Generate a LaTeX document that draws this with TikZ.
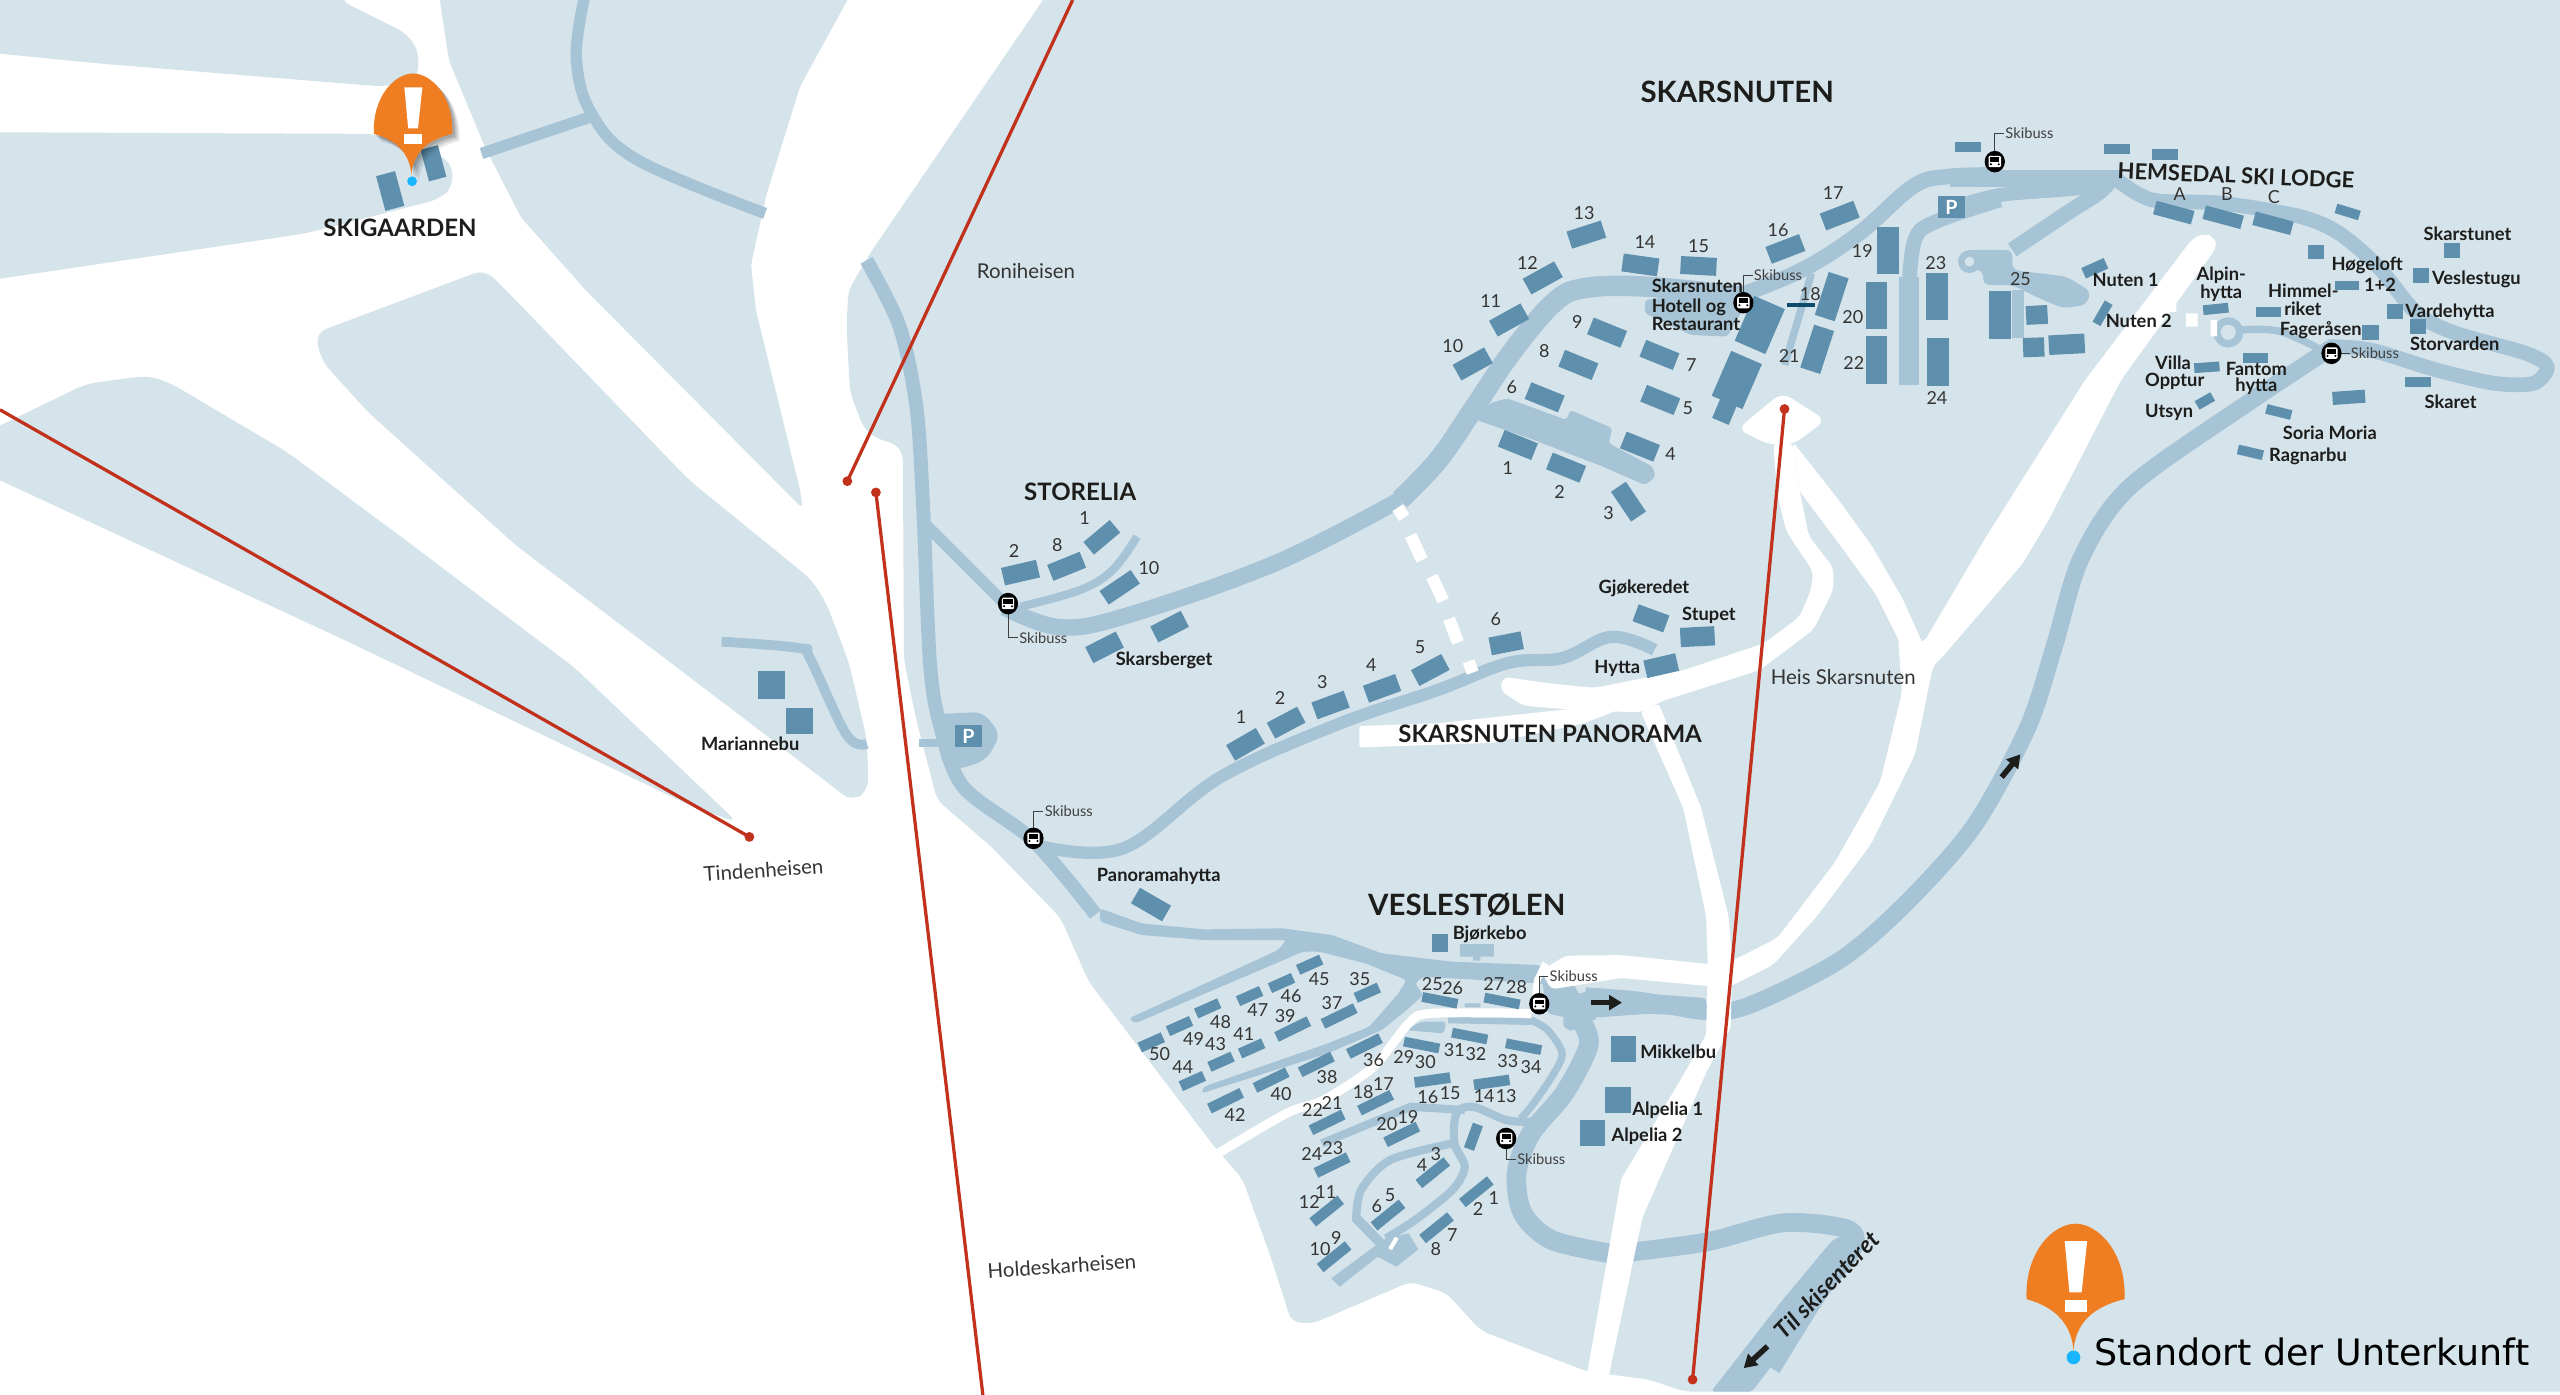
\documentclass[tikz,border=0pt]{standalone}
\usepackage{fontspec}
\setmainfont{Lato}
\newfontfamily\plainfont{DejaVu Sans}
\usetikzlibrary{arrows.meta}
\definecolor{landc}{HTML}{D5E3EB}
\definecolor{roadc}{HTML}{A7C4D6}
\definecolor{housec}{HTML}{5E90AD}
\definecolor{liftc}{HTML}{C1311C}
\definecolor{pinc}{HTML}{EF7D21}
\definecolor{dotc}{HTML}{19B5FE}
\definecolor{inkc}{HTML}{1D1D1B}
\definecolor{barc}{HTML}{0F4C6B}
\newcommand{\pinpath}{(0,0) .. controls (1,-12) and (8,-21) .. (25,-25) .. controls (26,-48) and (12,-62) .. (1,-62) .. controls (-10,-62) and (-24,-48) .. (-23,-25) .. controls (-8,-21) and (-1,-12) .. (0,0) -- cycle}
\tikzset{
  land/.style={fill=landc,rounded corners=7pt},
  road/.style={draw=roadc,line join=round},
  roadfill/.style={fill=roadc,rounded corners=2pt},
  piste/.style={fill=white,rounded corners=4pt},
  pistel/.style={draw=white,line join=round},
  house/.style={fill=housec,rectangle,inner sep=0pt,outer sep=0pt},
  num/.style={font=\fontsize{11}{12}\selectfont,text=inkc!90,inner sep=0pt},
  lab/.style={font=\bfseries\fontsize{11.2}{12}\selectfont,text=inkc,inner sep=0pt},
  area/.style={font=\bfseries\fontsize{14.7}{16}\selectfont,text=inkc,inner sep=0pt},
  lift/.style={draw=liftc,line width=2pt},
  liftdot/.style={circle,fill=liftc,minimum size=6pt,inner sep=0pt},
  heis/.style={font=\fontsize{12.5}{14}\selectfont,text=inkc!90,inner sep=0pt},
  skibuss/.style={font=\fontsize{9}{10}\selectfont,text=inkc!85,inner sep=0pt},
  leader/.style={draw=inkc!85,line width=.4pt},
  blockarrow/.style={draw=inkc,line width=3.4pt,-{Triangle[length=8pt,width=9pt]}},
  parking/.style={fill=housec,text=white,font=\bfseries\fontsize{12}{12}\selectfont,inner sep=0pt},
  viewa/.style={shift={(857.5,61.2)},x=.2344pt,y=-.2042pt},
  viewb/.style={shift={(1194.4,61.2)},x=.2383pt,y=-.2042pt},
  viewc/.style={shift={(673.7,539)},x=.2539pt,y=-.2042pt},
  viewd/.style={shift={(581.9,275.6)},x=.332pt,y=-.2042pt},
  viewe/.style={shift={(949.3,232.7)},x=.2734pt,y=-.2734pt},
  pics/busstop/.style={code={
    \fill[black] (0,0) ellipse (6.2pt and 6.6pt);
    \fill[white,rounded corners=.8pt] (-3.8,-3.6) rectangle (3.8,3.4);
    \fill[black] (-2.8,-2.6) rectangle (2.8,.2);
    \fill[black] (-2.4,1.6) circle (.7pt) (2.4,1.6) circle (.7pt);
  }},
  pics/warnpin/.style={code={
    \fill[pinc] \pinpath;
    \fill[white] (-4.3,-53.5) -- (6.7,-53.5) -- (4,-28.4) -- (-2,-28.4) -- cycle;
    \fill[white] (-4.3,-24.8) rectangle (6.7,-18.8);
  }}
}
\begin{document}
\begin{tikzpicture}[x=1pt,y=-1pt]
  \useasboundingbox (0,0) rectangle (1568,854.4);
  \fill[white] (0,0) rectangle (1568,854.4);

  % land
  \fill[land] (-9,-9) -- (208,-9) -- (208,0) -- (250,21) -- (257,33) -- (255,50) -- (234,53) -- (62,39) -- (-9,32) -- cycle;
  \fill[land] (-9,81) -- (230,82) -- (276,98) -- (278,114) -- (269,122) -- (187,143) -- (-9,172) -- cycle;
  \fill[land] (297,165) -- (193,204) -- (197,221) -- (225,252) -- (316,334) -- (457,441) -- (522,491) -- (532,484) -- (531,453) -- (520,406) -- (506,369) -- (497,355) -- (422,294) -- (316,184) -- cycle;
  \fill[land] (-9,265) -- (53,235) -- (91,230) -- (105,235) -- (176,277) -- (246,329) -- (352,409) -- (452,504) -- (422,493) -- (211,392) -- (-9,290) -- cycle;
  \fill[land,rounded corners=3pt] (268,-9) -- (275,37) -- (297,90) -- (319,133) -- (359,178) -- (491.6,311.5) -- (490,300) -- (477.7,250) -- (463,190) -- (460,162) -- (469.5,119) -- (490,53) -- (524,-9) -- cycle;
  \fill[land,rounded corners=5pt] (645,-9) -- (533,155) -- (519.6,178) -- (518.5,200) -- (520.6,240) -- (528.8,262) -- (537,268.7) -- (549,272) -- (553,278) -- (553.7,404) -- (561,440) -- (574,490) -- (606.5,518) -- (649.5,562) -- (667,601.5) -- (744,702.6) -- (761,722) -- (778,769) -- (791,809.6) -- (804,810.7) -- (864,785) -- (886,792) -- (907,815) -- (972,840) -- (1010,845) -- (1032,852.4) -- (1577,852.4) -- (1577,-9) -- cycle;

  % roads, left part
  \draw[road,line width=7pt] plot[smooth,tension=.6] coordinates {(358,-2) (353,35) (362,69) (390.5,98) (468.6,130.7)};
  \draw[road,line width=7pt] (362,71.5) -- (295,94);
  \draw[road,line width=6pt] plot[smooth,tension=.6] coordinates {(442,393) (490,397) (496,403) (518.5,450) (531,455.6)};
  \draw[road,line width=8.5pt] plot[smooth,tension=.5] coordinates {(530.8,159.4) (551,200) (561.4,250) (565.5,312.5) (569.6,406) (575.7,444) (590,482) (633,515) (671,560)};
  \draw[road,line width=7pt] (567.6,322) -- (617.6,372);
  \draw[road,line width=10pt] plot[smooth,tension=.6] coordinates {(615,372) (648,384) (688,377.7) (781,345) (857.5,306)};
  \draw[road,line width=5pt] (563,455) -- (580,455);
  \fill[roadfill,rounded corners=6pt] (572,437.5) -- (602,436) -- (613,450) -- (604,465.6) -- (588,471) -- (578,471) -- cycle;
  \draw[road,line width=7.5pt] plot[smooth,tension=.6] coordinates {(636,518) (688,519.6) (748,475.7) (821,443) (880.7,422.6) (923.9,406) (957,403) (986.9,390) (1013.5,398)};

  \begin{scope}[viewd]
    \draw[road,line width=5pt] plot[smooth,tension=.6] coordinates {(130,470) (240,420) (300,360) (345,260)};
  \end{scope}

  % roads, Skarsnuten
  \begin{scope}[viewa]
    \draw[road,line width=12.5pt] plot[smooth,tension=.6] coordinates {(0,1200) (100,1080) (190,930) (290,760) (400,610) (480,565) (640,560) (900,590)};
    \draw[road,line width=9.5pt] plot[smooth,tension=.6] coordinates {(880,590) (1050,510) (1200,400) (1340,260) (1430,230) (1568,225)};
    \fill[roadfill] (235,910) -- (280,895) -- (435,960) -- (445,930) -- (555,985) -- (545,1030) -- (660,1100) -- (668,1130) -- (640,1155) -- (530,1100) -- (350,1020) -- (200,960) -- cycle;
    \fill[roadfill] (640,600) -- (640,640) -- (760,705) -- (855,710) -- (900,620) -- (880,570) -- cycle;
    \draw[road,line width=4.5pt] (1075,520) -- (1050,620) -- (1005,795);
    \draw[road,line width=9pt] plot[smooth,tension=.6] coordinates {(1568,300) (1400,365) (1345,420) (1330,570)};
    \fill[roadfill,rounded corners=0pt] (1303,530) rectangle (1356,855);
  \end{scope}

  % roads, lodge
  \begin{scope}[viewb]
    \draw[road,line width=10.5pt] (0,235) -- (440,235);
    \draw[road,line width=8.5pt] plot[smooth,tension=.5] coordinates {(0,325) (130,285) (330,265) (430,240)};
    \draw[road,line width=9.5pt] plot[smooth,tension=.6] coordinates {(410,245) (380,280) (300,340) (160,450)};
    \draw[road,line width=9pt] plot[smooth,tension=.5] coordinates {(430,240) (520,300) (700,310) (900,350) (1000,400) (1100,500) (1200,640) (1300,700) (1480,760) (1535,800) (1500,850) (1400,850) (1250,810) (1080,750) (970,740)};
    \fill[roadfill,rounded corners=4pt] (40,450) -- (85,450) -- (160,450) -- (160,510) -- (300,530) -- (362,575) -- (350,615) -- (290,625) -- (220,590) -- (160,555) -- (85,555) -- (85,510) -- (30,510) -- (20,480) -- cycle;
    \fill[roadfill,rounded corners=0pt] (160,570) rectangle (190,715);
    \fill[roadc] (50,485) circle (7pt);
    \fill[landc] (50,485) circle (3pt);
    \draw[road,line width=4.5pt] (715,697) circle (7pt);
    \draw[road,line width=4.5pt] plot[smooth,tension=.6] coordinates {(750,690) (850,695) (970,760)};
  \end{scope}

  % long road to the lodge
  \draw[road,line width=10.5pt] plot[smooth,tension=.5] coordinates {(1428,213) (1378,246) (1304.7,298) (1274.6,342) (1258,396.7) (1241.8,446) (1209,506) (1168,552.6) (1127,588) (1072,615.5) (1045,619.6) (1004,612.7) (971,610)};
  \begin{scope}[viewe]
    \fill[roadfill] (30,1385) -- (100,1365) -- (220,1375) -- (350,1385) -- (350,1425) -- (220,1420) -- (80,1430) -- (50,1460) -- (30,1450) -- cycle;
  \end{scope}
  \draw[road,line width=11.5pt] plot[smooth,tension=.5] coordinates {(990,768) (1045,760.7) (1092,749) (1130.8,752.6) (1135,764) (1113.6,792) (1085,838)};
  \fill[roadfill] (1122,760) -- (1140,750) -- (1130,778) -- (1073,852.4) -- (1048,852.4) -- (1092,796) -- cycle;

  % roads, Veslestolen
  \begin{scope}[viewc]
    \fill[roadfill] (0,85) -- (100,130) -- (250,148) -- (440,145) -- (560,165) -- (680,220) -- (850,245) -- (1060,255) -- (1100,300) -- (1130,330) -- (1060,310) -- (780,290) -- (760,310) -- (780,345) -- (740,390) -- (680,450) -- (550,520) -- (245,640) -- (250,620) -- (550,490) -- (650,440) -- (720,340) -- (740,300) -- (640,250) -- (530,215) -- (490,215) -- (85,430) -- (70,415) -- (430,210) -- (450,180) -- (250,180) -- (100,165) -- (0,125) -- cycle;
    \fill[roadfill] (1060,260) -- (1130,310) -- (1200,420) -- (1150,420) -- (1080,400) -- cycle;
    \draw[road,line width=12pt] plot[smooth,tension=.5] coordinates {(1110,300) (1165,430) (1178,500) (1120,640) (1040,760) (1005,880) (1020,1000) (1090,1080) (1230,1120)};
    \draw[road,line width=4.5pt] plot[smooth,tension=.5] coordinates {(1040,420) (1080,450) (1115,520) (1090,590) (1040,680) (1015,715)};
    \draw[road,line width=4pt] (840,420) -- (1040,425);
    \fill[roadfill] (735,450) -- (775,425) -- (835,425) -- (830,460) -- cycle;
    \fill[roadc] (868,192) rectangle (950,230) (900,230) rectangle (918,242) (880,370) rectangle (918,382);
    \draw[road,line width=5pt] plot[smooth,tension=.5] coordinates {(1040,725) (980,720) (900,680) (860,700) (855,790) (880,860) (850,930) (760,1020) (690,1075)};
    \draw[road,line width=5pt] plot[smooth,tension=.5] coordinates {(850,790) (700,840) (630,930) (618,1020)};
    \draw[road,line width=5pt] (535,790) -- (750,680) -- (880,690);
    \draw[road,line width=6pt] (615,1010) -- (720,1145);
    \fill[roadfill,rounded corners=0pt] (745,1060) -- (768,1108) -- (715,1160) -- (670,1130) -- (578,1220) -- (558,1195) -- (650,1110) -- (690,1075) -- cycle;
    \fill[white,rotate around={-30:(708,1090)}] (703,1070) rectangle (713,1110);
  \end{scope}

  % pistes
  \fill[piste] (1343,146) -- (1277,233) -- (1217,328) -- (1178,394) -- (1162.6,391) -- (1165,424) -- (1151.6,479) -- (1124,528) -- (1088.7,574.5) -- (1062.8,587.6) -- (1050,590) -- (1050,604) -- (1059,604.5) -- (1086,591) -- (1113,561) -- (1146,517) -- (1173,462) -- (1184,407.7) -- (1190,402) -- (1239,345) -- (1255,318) -- (1299,233) -- (1358,151) -- (1356,145) -- (1350,143) -- cycle;
  \begin{scope}[viewe]
    \fill[piste,rounded corners=6pt] (520,28) -- (618,90) -- (545,145) -- (490,145) -- (420,110) -- cycle;
    \fill[piste,rounded corners=2pt] (545,140) -- (640,260) -- (720,370) -- (790,490) -- (835,590) -- (850,620) -- (800,640) -- (780,580) -- (730,480) -- (650,370) -- (560,250) -- cycle;
    \fill[piste] (500,140) -- (510,260) -- (530,340) -- (590,430) -- (585,470) -- (560,530) -- (480,590) -- (300,650) -- (100,690) -- (0,680) -- (-105,665) -- (-112,695) -- (-60,730) -- (70,740) -- (205,745) -- (250,720) -- (470,650) -- (590,560) -- (635,470) -- (635,420) -- (580,350) -- (560,250) -- (545,140) -- cycle;
  \end{scope}
  \fill[piste,rounded corners=1pt] (832.6,444.7) -- (880.7,443) -- (963.7,434) -- (985,428) -- (1006.9,428.8) -- (970,443) -- (913.9,455) -- (832.6,457.8) -- cycle;
  \fill[piste,rounded corners=2pt] (1005,436) -- (1031,495) -- (1045,561) -- (1046,591) -- (1045,634) -- (1027.6,664.3) -- (993,722) -- (972,842) -- (984.7,846) -- (1006,745.6) -- (1045,657) -- (1060,629.4) -- (1061,588) -- (1058.7,561) -- (1042,495) -- (1016,431) -- cycle;
  \fill[piste,rounded corners=3pt] (943.9,594.6) -- (958.9,585.3) -- (993,585) -- (1045.7,590.4) -- (1060,590) -- (1060,604) -- (1045.7,603.9) -- (993,599) -- (950,606) -- cycle;
  \begin{scope}[viewc]
    \draw[pistel,line width=5.5pt] plot[smooth,tension=.5] coordinates {(1040,400) (800,400) (745,430) (660,560) (540,660) (450,700) (265,835)};
    \draw[pistel,line width=4pt] (1075,250) -- (1055,300) -- (1045,400);
  \end{scope}
  \foreach \xa/\ya/\xb/\yb in {856/311/860/317,864/328/871/343,877/353/884/368,887.5/379/893/393.5,899.5/405/902/412}
    \draw[pistel,line width=7.5pt] (\xa,\ya) -- (\xb,\yb);
  \fill[white] (1339,192) rectangle (1346,200) (1329,185) rectangle (1333,191) (1354,196) rectangle (1358,206);

  % houses
  \begin{scope}[viewa]
    \foreach \x/\y/\w/\h/\a in {487/404/22/11/18,373/534/22/11/29,285/660/22/11/29,190/792/22/11/29,628/495/22/11/-8,780/498/22/11/-3,1007/447/22/11/21,1149/347/22/11/21,541/698/22/11/-22,466/795/22/11/-22,678/765/22/11/-22,378/892/22/11/-22,680/900/22/11/-22,627/1040/22/11/-22,308/1035/22/11/-22,434/1103/22/11/-22,597/1205/22/11/-56,940/675/20.5/30/-23.5,880/840/20.5/30/-23.5,848/935/11/13/-23,1128/590/12.8/27.6/-18,1090/748/12.8/27.6/-18,1276/451/13.4/29/0,1245/616/13.4/29/0,1245/780/13.4/29/0,1403/589/13.4/29/0,1406/786/13.4/29/0}
      \node[house,minimum width=\w pt,minimum height=\h pt,rotate=\a] at (\x,\y) {};
    \draw[barc,line width=2.4pt] (1010,615) -- (1085,615);
    \node[parking,minimum width=16pt,minimum height=13.4pt] (parkskar) at (1441,322) {P};
  \end{scope}
  \begin{scope}[viewb]
    \foreach \x/\y/\w/\h/\a in {47/141/16/6.3/0,430/148/16/6.3/0,552/163/16/6.5/0,575/338/24/8.5/-15,702/352/24/8.5/-15,830/370/24/8.5/-15,1022/336/15/6/-17,940/456/9.5/9/0,1290/452/9.5/9/0,1211/527/10/9/0,1020/556/15/5.8/0,1143/634/10/9/0,1203/680/10/9/0,1081/697/10/9/0,372/505/15/7/24,392/640/15/5.5/60,683/627/15.5/6/6,818/635/15/6/0,660/802/15.5/6/4,785/775/15.5/6/0,1025/892/20/8/4,1203/847/15.7/6/0,845/936/15.7/6/-14,772/1057/15.7/6/-13,655/903/11/6/30,128/645/13.7/29/0,223/645/13.2/11.5/3,215/742/13/11.8/2,300/733/22/12/3}
      \node[house,minimum width=\w pt,minimum height=\h pt,rotate=\a] at (\x,\y) {};
  \end{scope}
  \begin{scope}[viewd]
    \foreach \x/\y/\w/\h/\a in {130/368/22/11/13,215/349/21.5/10.5/22,280/262/21/10/40,313/412/23/10/34,285/592/21/11/27,405/530/21/11/27,545/883/21/11/30,620/818/21/11/28,702/765/21/11/20,797/715/21/11/20,886/660/21/11/28,1026/580/20/11/11,1293/505/20/11/-20,1379/560/21/11.8/3,1312/647/20/11/13}
      \node[house,minimum width=\w pt,minimum height=\h pt,rotate=\a] at (\x,\y) {};
    \node[parking,minimum width=16pt,minimum height=13.4pt] (parksto) at (34,858) {P};
  \end{scope}
  \begin{scope}[viewc]
    \foreach \x/\y/\w/\h/\a in {124/487/15.5/6.5/24,192/438/15.5/6.5/24,260/385/15.5/6.5/24,361/348/15.5/6.5/24,438/309/15.5/6.5/24,506/254/15.5/6.5/24,645/338/15.5/6.5/24,577/408/22/6.5/26,465/447/22/6.5/26,366/505/15.5/6.5/24,292/545/15.5/6.5/24,223/603/15.5/6.5/24,303/662/22/6.5/26,413/600/22/6.5/26,522/553/22/6.5/26,638/498/22/6.5/26,820/361/22/6/-11,970/363/22/6/-11,776/495/22/6/-11,892/468/22/6/-11,1022/500/22/6/-11,802/600/22/6.5/8,945/607/22/6.5/8,665/668/22/6.5/26,548/727/22/6.5/26,728/763/22/6.5/26,560/855/22/6.5/26,901/770/6.5/16/-20,803/878/22/6.5/39,547/993/22/6.5/39,695/1005/22/6.5/39,908/935/22/6.5/39,812/1043/22/6.5/39,565/1130/22/6.5/39,1263/506/15.5/16/0,1249/660/15.7/16.3/0,1188/759/15.5/16/0,820/189/10/10.6/0}
      \node[house,minimum width=\w pt,minimum height=\h pt,rotate=\a] at (\x,\y) {};
  \end{scope}
  \foreach \x/\y/\w/\h/\a in {705/554/22/11/-30,472.5/419.5/16.5/17/0,489.6/441.6/16.5/16.5/0,239/117/12/22/15,265.5/100/11/20/15}
    \node[house,minimum width=\w pt,minimum height=\h pt,rotate=\a] at (\x,\y) {};

  % lifts
  \node[liftdot] (tindbot) at (459,512.6) {};
  \node[liftdot] (ronibot) at (519,294.7) {};
  \node[liftdot] (holdbot) at (536.5,301.6) {};
  \node[liftdot] (skarbot) at (1036.7,845) {};
  \node[liftdot] (skartop) at (1093,250.5) {};
  \coordinate (tindtop) at (0,251);
  \coordinate (ronitop) at (657,0);
  \coordinate (holdend) at (602,854.4);
  \draw[lift] (tindtop) -- (tindbot.center);
  \draw[lift] (ronitop) -- (ronibot.center);
  \draw[lift] (holdbot.center) -- (holdend);
  \draw[lift] (skartop.center) -- (skarbot.center);

  % block arrows
  \draw[blockarrow] (974.5,614.1) -- (993.5,614.1);
  \draw[blockarrow] (1226,476) -- (1237.5,462);
  \draw[blockarrow] (1082.6,824.6) -- (1068,838);

  % bus stops
  \foreach \n/\bx/\by/\lx/\ly in {1/1221.8/99/1243/81.6,2/1067.8/185.4/1089/168.4,3/1428/216.4/1454.6/216.4,4/617.4/369.7/639/390.6,5/633/513.5/654.6/496.8,6/942.8/614.8/963.9/597.8,7/922.5/697.3/944/710}{
    \coordinate (bus\n) at (\bx,\by);
    \node[skibuss,outer sep=.8pt] (sb\n) at (\lx,\ly) {Skibuss};
    \draw[leader] (bus\n) |- (sb\n.west);
    \pic at (bus\n) {busstop};
  }

  % house numbers
  \begin{scope}[viewa]
    \foreach \t/\x/\y in {13/481/340,12/333/490,11/237/604,10/138/737,14/640/427,15/780/440,16/988/390,17/1132/280,9/463/665,8/377/753,7/761/795,6/292/862,5/752/926,4/707/1063,1/282/1103,2/417/1175,3/545/1240,18/1072/583,19/1208/453,20/1183/650,21/1017/768,22/1186/790,23/1400/490,24/1403/895}
      \node[num] (skar\t) at (\x,\y) {\t};
  \end{scope}
  \begin{scope}[viewd]
    \foreach \t/\x/\y in {2/118/302,8/198/285,1/248/205,10/367/355}
      \node[num] (sto\t) at (\x,\y) {\t};
    \foreach \t/\x/\y in {1/537/802,2/609/745,3/687/695,4/777/645,5/867/592,6/1007/507}
      \node[num] (pan\t) at (\x,\y) {\t};
  \end{scope}
  \begin{scope}[viewc]
    \foreach \t/\x/\y in {50/144/523,49/226/477,48/291/427,47/381/390,46/461/349,45/529/298,35/627/297,37/560/368,39/447/408,41/347/461,43/279/492,44/200/561,42/326/704,40/437/643,38/548/590,36/660/540,25/802/313,26/851/324,27/950/313,28/1005/322,29/733/531,30/785/545,31/855/510,32/907/522,33/984/542,34/1040/560,16/791/650,15/845/640,14/927/647,13/980/647,18/635/637,17/684/613,22/513/690,21/560/668,20/692/733,19/743/712,24/511/823,23/562/803,12/505/965,11/545/937,6/668/977,5/700/945,4/777/855,3/810/822,2/912/987,1/950/955,8/810/1107,7/850/1065,10/531/1107,9/570/1075}
      \node[num] (ves\t) at (\x,\y) {\t};
  \end{scope}
  \node[num] (lodgea) at (1335,119) {A};
  \node[num] (lodgeb) at (1364,119) {B};
  \node[num] (lodgec) at (1392.7,121) {C};
  \node[num] (num25) at (1237.5,171) {25};

  % place names
  \node[area,font=\bfseries\fontsize{18}{20}\selectfont] (skarsnuten) at (1064,56) {SKARSNUTEN};
  \node[area,rotate=-2.4,font=\bfseries\fontsize{13.5}{16}\selectfont] (lodge) at (1369.5,107.5) {HEMSEDAL SKI LODGE};
  \node[area] (storelia) at (661.6,301.5) {STORELIA};
  \node[area] (panorama) at (949.4,449.6) {SKARSNUTEN PANORAMA};
  \node[area,font=\bfseries\fontsize{18}{20}\selectfont] (veslestolen) at (898.4,554.3) {VESLESTØLEN};
  \node[area] (skigaarden) at (245,139.5) {SKIGAARDEN};

  \foreach \nm/\x/\y/\t in {a/1511.3/142.9/Skarstunet,b/1449.9/162.7/Høgeloft,c/1457.7/174.5/1+2,d/1516.8/170.9/Veslestugu,e/1302/171.5/Nuten 1,f/1360.5/168.8/Alpin-,g/1360.5/179.6/hytta,h/1410.8/178/Himmel-,i/1410.5/189.2/riket,j/1500.6/191.5/Vardehytta,k/1421.5/202.1/Fageråsen,l/1503.5/210.7/Storvarden,m/1310/196.6/Nuten 2,n/1331/222.5/Villa,o/1332/233.8/Opptur,p/1382/226/Fantom,q/1382/236.8/hytta,r/1328.6/252.7/Utsyn,s/1501/246/Skaret,t/1427/265/Soria Moria,u/1413.6/279.3/Ragnarbu,v/459.5/455.6/Mariannebu,w/713/404.2/Skarsberget,x/709.7/536.5/Panoramahytta,y/1006.9/360.5/Gjøkeredet,z/1046.7/377/Stupet,aa/990.6/409.4/Hytta,ab/912.4/572/Bjørkebo,ac/1027.9/644.2/Mikkelbu,ad/1021.5/680/Alpelia 1,ae/1008.8/696/Alpelia 2}
    \node[lab] (name\nm) at (\x,\y) {\t};
  \node[lab,anchor=west] (hotela) at (1011.5,175) {Skarsnuten};
  \node[lab,anchor=west] (hotelb) at (1011.5,188.2) {Hotell og};
  \node[lab,anchor=west] (hotelc) at (1011.5,198.6) {Restaurant};

  \node[heis] (roni) at (628.4,166.3) {Roniheisen};
  \node[heis,rotate=4] (tinden) at (467.6,533) {Tindenheisen};
  \node[heis,rotate=4] (holdes) at (650.4,775.4) {Holdeskarheisen};
  \node[heis] (heisskar) at (1129,414.5) {Heis Skarsnuten};
  \node[lab,rotate=46,font=\bfseries\itshape\fontsize{14.5}{15}\selectfont] (tilski) at (1119,787) {Til skisenteret};

  % location pins
  \foreach \s/\o in {4.5/.07,3.5/.09,2.5/.11,1.5/.13}{
    \begin{scope}[shift={(252+\s,107+\s)},opacity=\o]
      \fill[black] \pinpath;
    \end{scope}
  }
  \pic at (252,107) {warnpin};
  \fill[dotc] (252.4,111) circle (3pt);
  \pic[scale=1.25] at (1270,827) {warnpin};
  \fill[dotc] (1270,831.4) circle (4.2pt);
  \node[inner sep=0pt,font=\plainfont\fontsize{22.3}{24}\selectfont,text=black] (standort) at (1416,827.9) {Standort der Unterkunft};
\end{tikzpicture}
\end{document}
